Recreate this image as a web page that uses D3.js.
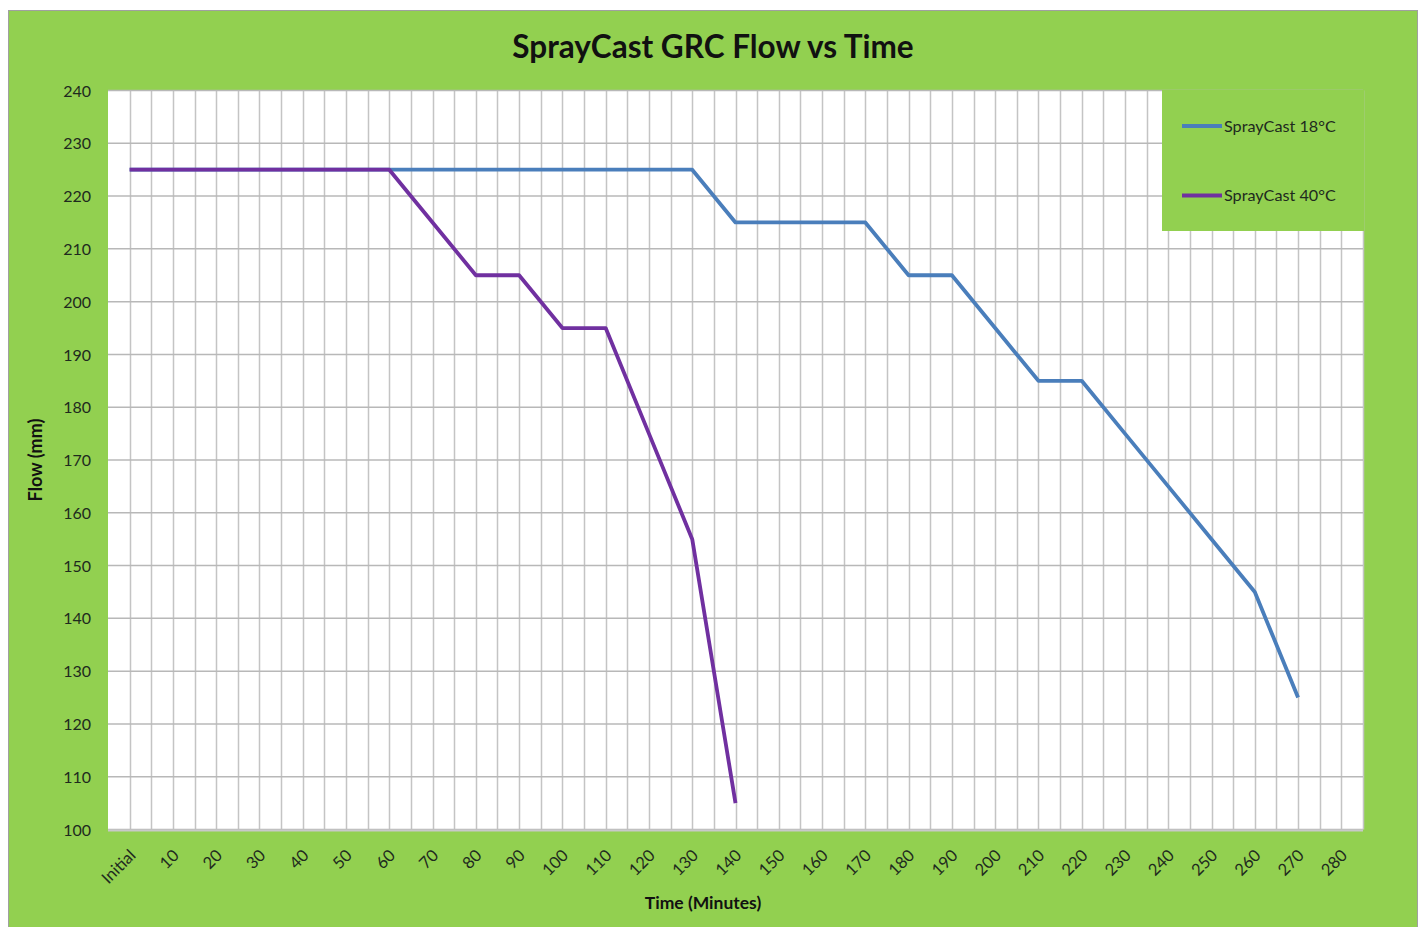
<!DOCTYPE html>
<html><head><meta charset="utf-8">
<script src="https://cdn.jsdelivr.net/npm/d3@7"></script>
<style>body{margin:0;background:#fff;} svg{display:block;}</style>
</head><body>
<svg id="c" width="1424" height="927"></svg>
<script>
const categories = ["Initial","10","20","30","40","50","60","70","80","90","100","110","120","130","140","150","160","170","180","190","200","210","220","230","240","250","260","270","280"];
const series18 = [225,225,225,225,225,225,225,225,225,225,225,225,225,225,215,215,215,215,205,205,195,185,185,175,165,155,145,125,null];
const series40 = [225,225,225,225,225,225,225,215,205,205,195,195,175,155,105,null,null,null,null,null,null,null,null,null,null,null,null,null,null];
const seriesNames = ["SprayCast 18°C","SprayCast 40°C"];
const yTicks = [100,110,120,130,140,150,160,170,180,190,200,210,220,230,240];

const svg = d3.select("#c");
const font = "Lato, 'Open Sans', sans-serif";
const green = "#92d050";
const colors = ["#4a7ebb","#7030a0"];

// chart area frame
svg.append("rect").attr("x",8.5).attr("y",10.5).attr("width",1409).attr("height",930)
  .attr("fill",green).attr("stroke","#a0a0a0").attr("stroke-width",1);

const L=108, R=1363, T=90.5, B=829.5;
const x = d3.scaleBand().domain(categories).range([L,R]).padding(0);
const y = d3.scaleLinear().domain([100,240]).range([B,T]);

svg.append("rect").attr("x",L).attr("y",T).attr("width",R-L).attr("height",B-T).attr("fill","#fff");

const g = svg.append("g");
// vertical gridlines: band boundaries and centers
const bw = x.bandwidth();
const vlines = [];
categories.forEach((c,i)=>{ if(i>0) vlines.push(x(c)); vlines.push(x(c)+bw/2); });
vlines.push(R);
g.selectAll("line.v").data(vlines).enter().append("line")
  .attr("x1",d=>Math.round(d)+0.5).attr("x2",d=>Math.round(d)+0.5).attr("y1",T).attr("y2",B)
  .attr("stroke","#c4c4c4").attr("stroke-width",1.5);
// horizontal gridlines
g.selectAll("line.h").data(yTicks).enter().append("line")
  .attr("x1",L).attr("x2",R).attr("y1",d=>y(d)).attr("y2",d=>y(d))
  .attr("stroke","#b8b8b8").attr("stroke-width",1.5);
// axis line bottom
svg.append("line").attr("x1",L).attr("x2",R).attr("y1",B+1).attr("y2",B+1).attr("stroke","#c8c8c8").attr("stroke-width",2);

// y axis
const yAxis = d3.axisLeft(y).tickValues(yTicks).tickSize(0).tickPadding(17);
const ya = svg.append("g").attr("transform",`translate(${L},0)`).call(yAxis);
ya.select(".domain").remove();
ya.selectAll("text").attr("font-family",font).attr("font-size",16).attr("fill","#1e2a1e").attr("dy","0.35em");

// x axis
const xAxis = d3.axisBottom(x).tickSize(0).tickPadding(0);
const xa = svg.append("g").attr("transform",`translate(0,${B})`).call(xAxis);
xa.select(".domain").remove();
xa.selectAll("text").attr("font-family",font).attr("font-size",16.5).attr("fill","#1e2a1e")
  .attr("text-anchor","end").attr("dy",0).attr("y",0)
  .attr("transform","translate(7,27) rotate(-45)");

// lines
const line = d3.line().defined(d=>d!=null).x((d,i)=>x(categories[i])+bw/2).y(d=>y(d));
[series18, series40].forEach((s,k)=>{
  svg.append("path").datum(s).attr("d",line).attr("fill","none")
    .attr("stroke",colors[k]).attr("stroke-width",3.8).attr("stroke-linejoin","round");
});

// legend
svg.append("rect").attr("x",1162).attr("y",T-0.5).attr("width",R-1162+1).attr("height",141).attr("fill",green);
seriesNames.forEach((n,k)=>{
  const ly = [126,195.5][k];
  svg.append("line").attr("x1",1182).attr("x2",1222).attr("y1",ly).attr("y2",ly)
    .attr("stroke",colors[k]).attr("stroke-width",3.8);
  svg.append("text").attr("x",1224).attr("y",ly).attr("dy","0.35em").text(n)
    .attr("font-family",font).attr("font-size",16.2).attr("fill","#1e2a1e");
});

// title
svg.append("text").attr("x",713).attr("y",58).attr("text-anchor","middle").text("SprayCast GRC Flow vs Time")
  .attr("font-family",font).attr("font-weight","bold").attr("font-size",31.5).attr("fill","#111");
// axis titles
svg.append("text").attr("x",703).attr("y",909).attr("text-anchor","middle").text("Time (Minutes)")
  .attr("font-family",font).attr("font-weight","bold").attr("font-size",17.5).attr("fill","#111");
svg.append("text").attr("transform","translate(42,460) rotate(-90)").attr("text-anchor","middle").text("Flow (mm)")
  .attr("font-family",font).attr("font-weight","bold").attr("font-size",18).attr("fill","#111");
</script>
</body></html>
